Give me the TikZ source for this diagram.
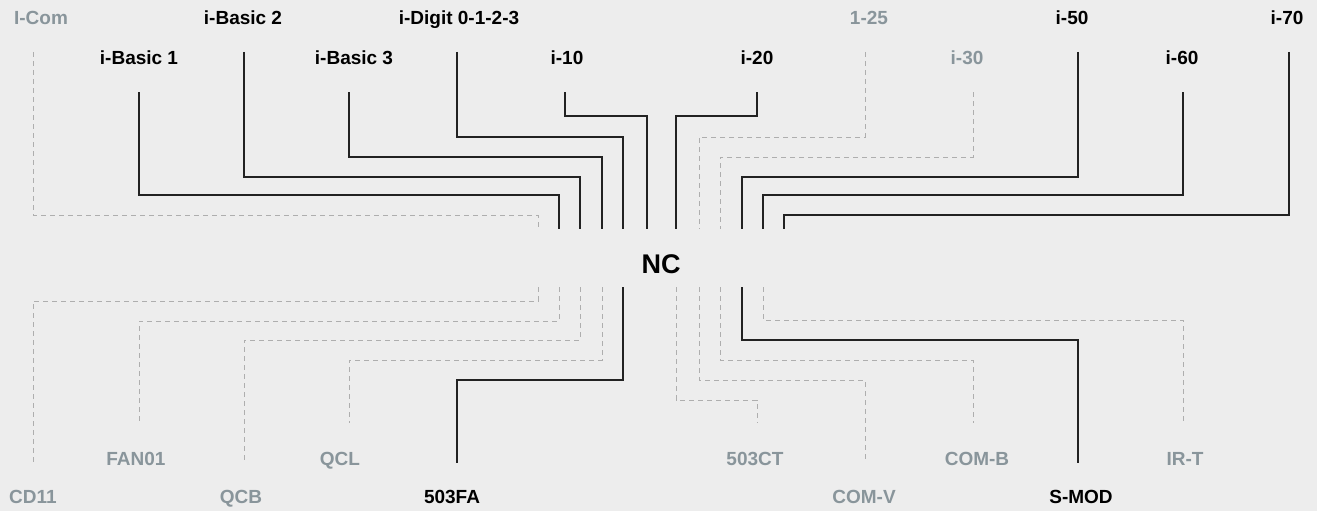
\documentclass[tikz,border=0pt]{standalone}
\usepackage{fontspec}
\setmainfont{Liberation Sans}
\definecolor{bg}{HTML}{EDEDED}
\definecolor{gt}{HTML}{89959B}
\definecolor{gl}{HTML}{AEAEAE}
\definecolor{dk}{HTML}{222222}
\begin{document}
\begin{tikzpicture}[x=1pt,y=-1pt,
  lab/.style={font=\bfseries\fontsize{19}{19}\selectfont, inner sep=0pt, anchor=base},
  on/.style={lab,text=black},
  off/.style={lab,text=gt},
  wire/.style={draw=dk, line width=1.3pt},
  dwire/.style={draw=gl, line width=1pt, dash pattern=on 5pt off 4pt}]
\fill[bg] (0,0) rectangle (1317,511);
\useasboundingbox (0,0) rectangle (1317,511);

% centre node
\node[font=\bfseries\fontsize{27}{27}\selectfont, minimum width=280pt, minimum height=58pt, inner sep=0pt] (nc) at (661,258) {};
\node[font=\bfseries\fontsize{27}{27}\selectfont, inner sep=0pt, anchor=base] (nctext) at (661,273) {NC};

% top labels
\node[off] (icom) at (41,25) {I-Com};
\node[on] (ib2) at (243,25) {i-Basic 2};
\node[on] (idg) at (459,25) {i-Digit 0-1-2-3};
\node[off] (n125) at (869,25) {1-25};
\node[on] (i50) at (1072,25) {i-50};
\node[on] (i70) at (1287,25) {i-70};
\node[on] (ib1) at (139,64) {i-Basic 1};
\node[on] (ib3) at (354,64) {i-Basic 3};
\node[on] (i10) at (567,64) {i-10};
\node[on] (i20) at (757,64) {i-20};
\node[off] (i30) at (967,64) {i-30};
\node[on] (i60) at (1182,64) {i-60};

% bottom labels
\node[off] (fan) at (136,465) {FAN01};
\node[off] (qcl) at (340,465) {QCL};
\node[off] (ct) at (755,465) {503CT};
\node[off] (comb) at (977,465) {COM-B};
\node[off] (irt) at (1185,465) {IR-T};
\node[off] (cd) at (33,503) {CD11};
\node[off] (qcb) at (241,503) {QCB};
\node[on] (fa) at (452,503) {503FA};
\node[off] (comv) at (864,503) {COM-V};
\node[on] (smod) at (1081,503) {S-MOD};

% wire end coordinates near labels
\coordinate (icomT) at (33,52);
\coordinate (ib1T) at (139,92);
\coordinate (ib2T) at (244,52);
\coordinate (ib3T) at (349,92);
\coordinate (idgT) at (457,52);
\coordinate (i10T) at (565,92);
\coordinate (i20T) at (757,92);
\coordinate (n125T) at (865,52);
\coordinate (i30T) at (973,92);
\coordinate (i50T) at (1078,52);
\coordinate (i60T) at (1183,92);
\coordinate (i70T) at (1289,52);
\coordinate (cdB) at (33,463);
\coordinate (fanB) at (139,423);
\coordinate (qcbB) at (244,463);
\coordinate (qclB) at (349,423);
\coordinate (faB) at (457,463);
\coordinate (ctB) at (757,423);
\coordinate (comvB) at (865,463);
\coordinate (combB) at (973,423);
\coordinate (smodB) at (1078,463);
\coordinate (irtB) at (1183,423);

% top wires
\draw[dwire] (icomT) -- (33,215) -- (538,215) -- (nc.north -| 538,0);
\draw[wire] (ib1T) -- (139,195) -- (559,195) -- (nc.north -| 559,0);
\draw[wire] (ib2T) -- (244,177) -- (580,177) -- (nc.north -| 580,0);
\draw[wire] (ib3T) -- (349,157) -- (602,157) -- (nc.north -| 602,0);
\draw[wire] (idgT) -- (457,137) -- (623,137) -- (nc.north -| 623,0);
\draw[wire] (i10T) -- (565,116) -- (647,116) -- (nc.north -| 647,0);
\draw[wire] (i20T) -- (757,116) -- (676,116) -- (nc.north -| 676,0);
\draw[dwire] (n125T) -- (865,137) -- (699,137) -- (nc.north -| 699,0);
\draw[dwire] (i30T) -- (973,157) -- (720,157) -- (nc.north -| 720,0);
\draw[wire] (i50T) -- (1078,177) -- (742,177) -- (nc.north -| 742,0);
\draw[wire] (i60T) -- (1183,195) -- (763,195) -- (nc.north -| 763,0);
\draw[wire] (i70T) -- (1289,215) -- (784,215) -- (nc.north -| 784,0);

% bottom wires
\draw[dwire] (nc.south -| 538,0) -- (538,301) -- (33,301) -- (cdB);
\draw[dwire] (nc.south -| 559,0) -- (559,321) -- (139,321) -- (fanB);
\draw[dwire] (nc.south -| 580,0) -- (580,340) -- (244,340) -- (qcbB);
\draw[dwire] (nc.south -| 602,0) -- (602,360) -- (349,360) -- (qclB);
\draw[wire] (nc.south -| 623,0) -- (623,380) -- (457,380) -- (faB);
\draw[dwire] (nc.south -| 676,0) -- (676,400) -- (757,400) -- (ctB);
\draw[dwire] (nc.south -| 699,0) -- (699,380) -- (865,380) -- (comvB);
\draw[dwire] (nc.south -| 720,0) -- (720,360) -- (973,360) -- (combB);
\draw[wire] (nc.south -| 742,0) -- (742,340) -- (1078,340) -- (smodB);
\draw[dwire] (nc.south -| 763,0) -- (763,320) -- (1183,320) -- (irtB);
\end{tikzpicture}
\end{document}
